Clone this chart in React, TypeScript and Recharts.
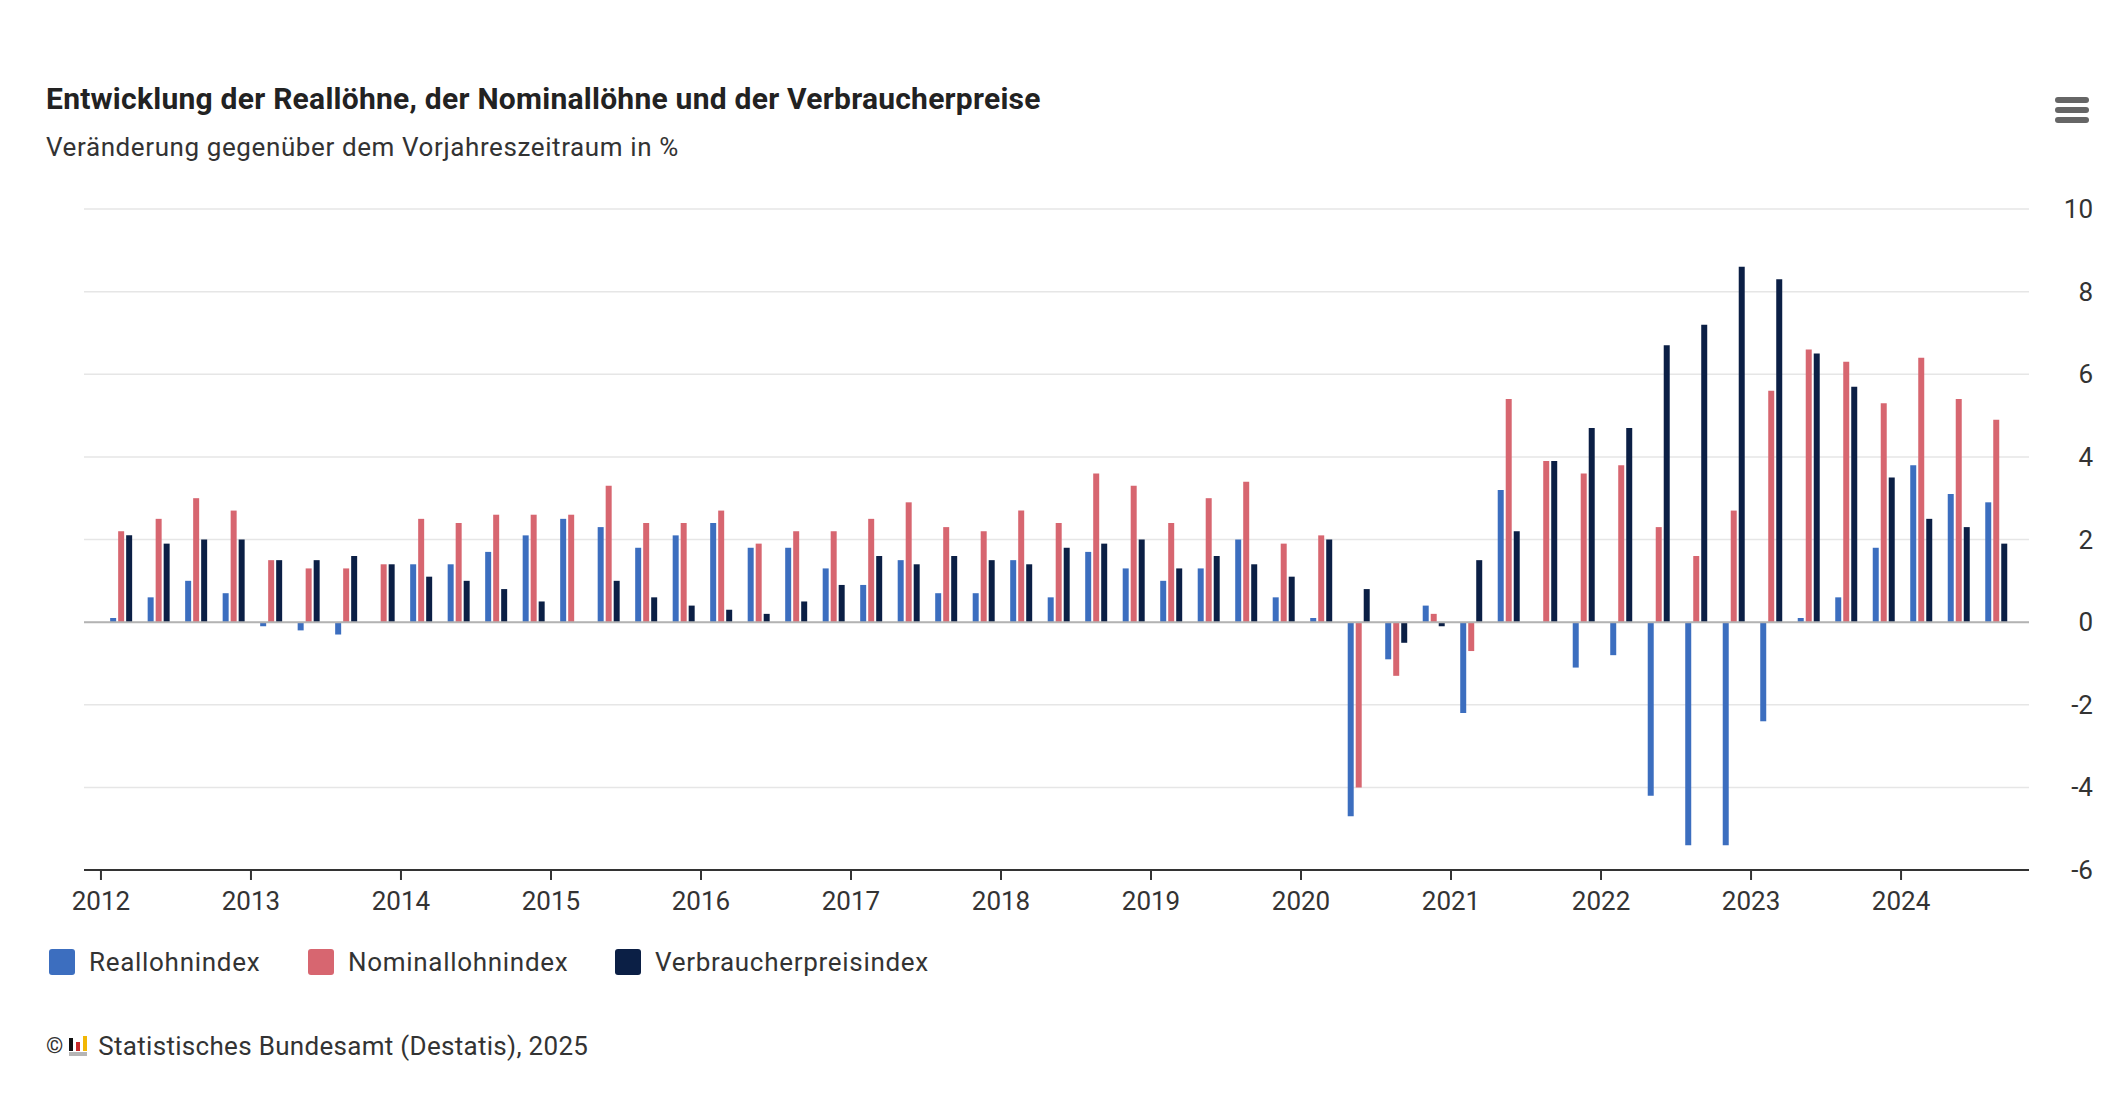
import React from 'react';
import { BarChart, Bar, XAxis, YAxis, CartesianGrid, ReferenceLine } from 'recharts';

// quarterly values, 2012 Q1 .. 2024 Q3
const startYear = 2012;
const quarters: string[] = [];
for (let i = 0; i < 51; i++) {
  quarters.push(`${startYear + Math.floor(i / 4)}-Q${(i % 4) + 1}`);
}

const reallohn = [
  0.1, 0.6, 1.0, 0.7,
  -0.1, -0.2, -0.3, 0.0,
  1.4, 1.4, 1.7, 2.1,
  2.5, 2.3, 1.8, 2.1,
  2.4, 1.8, 1.8, 1.3,
  0.9, 1.5, 0.7, 0.7,
  1.5, 0.6, 1.7, 1.3,
  1.0, 1.3, 2.0, 0.6,
  0.1, -4.7, -0.9, 0.4,
  -2.2, 3.2, 0.0, -1.1,
  -0.8, -4.2, -5.4, -5.4,
  -2.4, 0.1, 0.6, 1.8,
  3.8, 3.1, 2.9,
];

const nominallohn = [
  2.2, 2.5, 3.0, 2.7,
  1.5, 1.3, 1.3, 1.4,
  2.5, 2.4, 2.6, 2.6,
  2.6, 3.3, 2.4, 2.4,
  2.7, 1.9, 2.2, 2.2,
  2.5, 2.9, 2.3, 2.2,
  2.7, 2.4, 3.6, 3.3,
  2.4, 3.0, 3.4, 1.9,
  2.1, -4.0, -1.3, 0.2,
  -0.7, 5.4, 3.9, 3.6,
  3.8, 2.3, 1.6, 2.7,
  5.6, 6.6, 6.3, 5.3,
  6.4, 5.4, 4.9,
];

const verbraucherpreise = [
  2.1, 1.9, 2.0, 2.0,
  1.5, 1.5, 1.6, 1.4,
  1.1, 1.0, 0.8, 0.5,
  0.0, 1.0, 0.6, 0.4,
  0.3, 0.2, 0.5, 0.9,
  1.6, 1.4, 1.6, 1.5,
  1.4, 1.8, 1.9, 2.0,
  1.3, 1.6, 1.4, 1.1,
  2.0, 0.8, -0.5, -0.1,
  1.5, 2.2, 3.9, 4.7,
  4.7, 6.7, 7.2, 8.6,
  8.3, 6.5, 5.7, 3.5,
  2.5, 2.3, 1.9,
];

const yearTicks = [2012, 2013, 2014, 2015, 2016, 2017, 2018, 2019, 2020, 2021, 2022, 2023, 2024];
const yTicks = [-6, -4, -2, 0, 2, 4, 6, 8, 10];

const COLORS = {
  real: '#3c6ebf',
  nominal: '#d76670',
  cpi: '#0b1f45',
};

// time position of a quarter (a little into the quarter, like the original)
const quarterPos = (q: string) => {
  const [y, qq] = q.split('-Q');
  return Number(y) + (Number(qq) - 1) / 4 + 0.133;
};

const rows = quarters.map((q, i) => ({
  x: quarterPos(q),
  label: q,
  real: reallohn[i],
  nominal: nominallohn[i],
  cpi: verbraucherpreise[i],
}));

const RightTick = (props: any) => {
  const { x, y, payload } = props;
  return (
    <text x={x + 64} y={y} dy="0.35em" textAnchor="end" fill="#333" fontSize={26} fontFamily="Roboto, sans-serif">
      {payload.value}
    </text>
  );
};

const legendItems = [
  { name: 'Reallohnindex', color: COLORS.real },
  { name: 'Nominallohnindex', color: COLORS.nominal },
  { name: 'Verbraucherpreisindex', color: COLORS.cpi },
];

const Logo = () => (
  <svg width={20} height={22} viewBox="0 0 20 22" style={{ display: 'block' }}>
    <rect x={0} y={3} width={4} height={13} fill="#111" />
    <rect x={7} y={7} width={4} height={9} fill="#c62828" />
    <rect x={14} y={1} width={4} height={15} fill="#f2b705" />
    <rect x={0} y={17} width={18} height={4} fill="#b5b5b5" />
  </svg>
);

export default function App() {
  return (
    <div
      style={{
        position: 'absolute',
        left: 0,
        top: 0,
        width: 2110,
        height: 1104,
        background: '#fff',
        fontFamily: 'Roboto, sans-serif',
        color: '#333',
        overflow: 'hidden',
      }}
    >
      <div
        style={{
          position: 'absolute',
          left: 46,
          top: 84,
          fontSize: 30,
          lineHeight: '30px',
          fontWeight: 700,
          color: '#222',
          letterSpacing: 0.25,
          whiteSpace: 'nowrap',
        }}
      >
        Entwicklung der Reallöhne, der Nominallöhne und der Verbraucherpreise
      </div>
      <div
        style={{
          position: 'absolute',
          left: 46,
          top: 134,
          fontSize: 26,
          lineHeight: '26px',
          letterSpacing: 0.6,
          whiteSpace: 'nowrap',
        }}
      >
        Veränderung gegenüber dem Vorjahreszeitraum in %
      </div>

      {/* menu button */}
      {[97, 107, 117].map((t) => (
        <div
          key={t}
          style={{ position: 'absolute', left: 2055, top: t, width: 34, height: 5.5, borderRadius: 3, background: '#666' }}
        />
      ))}

      <div style={{ position: 'absolute', left: 0, top: 0 }}>
        <BarChart
          width={2110}
          height={940}
          data={rows}
          margin={{ top: 209, right: 0, bottom: 10, left: 84 }}
          barSize={6}
          barGap={2}
        >
          <CartesianGrid vertical={false} stroke="#e6e6e6" strokeWidth={1.5} />
          <XAxis
            type="number"
            dataKey="x"
            domain={[2011.887, 2024.853]}
            allowDataOverflow
            ticks={yearTicks}
            interval={0}
            tickFormatter={(v: number) => String(v)}
            axisLine={{ stroke: '#333', strokeWidth: 2 }}
            tickLine={{ stroke: '#333', strokeWidth: 2 }}
            tickSize={10}
            tickMargin={12}
            tick={{ fill: '#333', fontSize: 26, fontFamily: 'Roboto, sans-serif' }}
            height={60}
          />
          <YAxis
            orientation="right"
            type="number"
            domain={[-6, 10]}
            ticks={yTicks}
            interval={0}
            axisLine={false}
            tickLine={false}
            tickSize={0}
            tickMargin={0}
            width={81}
            tick={<RightTick />}
          />
          <ReferenceLine y={0} stroke="#b3b3b3" strokeWidth={2} />
          <Bar dataKey="real" name="Reallohnindex" fill={COLORS.real} isAnimationActive={false} />
          <Bar dataKey="nominal" name="Nominallohnindex" fill={COLORS.nominal} isAnimationActive={false} />
          <Bar dataKey="cpi" name="Verbraucherpreisindex" fill={COLORS.cpi} isAnimationActive={false} />
        </BarChart>
      </div>

      {/* legend */}
      {legendItems.map((item, i) => (
        <div
          key={item.name}
          style={{
            position: 'absolute',
            left: [49, 308, 615][i],
            top: 949,
            display: 'flex',
            alignItems: 'center',
            whiteSpace: 'nowrap',
          }}
        >
          <div style={{ width: 26, height: 26, borderRadius: 3, background: item.color, marginRight: 14 }} />
          <span style={{ fontSize: 26, lineHeight: '26px', letterSpacing: 0.7, color: '#333' }}>{item.name}</span>
        </div>
      ))}

      {/* credits */}
      <div
        style={{
          position: 'absolute',
          left: 46,
          top: 1033,
          display: 'flex',
          alignItems: 'center',
          fontSize: 26,
          lineHeight: '26px',
          color: '#333',
          whiteSpace: 'nowrap',
        }}
      >
        <span style={{ fontSize: 22 }}>©</span>
        <span style={{ margin: '0 9px 0 6px' }}>
          <Logo />
        </span>
        <span style={{ letterSpacing: 0.3 }}>Statistisches Bundesamt (Destatis), 2025</span>
      </div>
    </div>
  );
}
